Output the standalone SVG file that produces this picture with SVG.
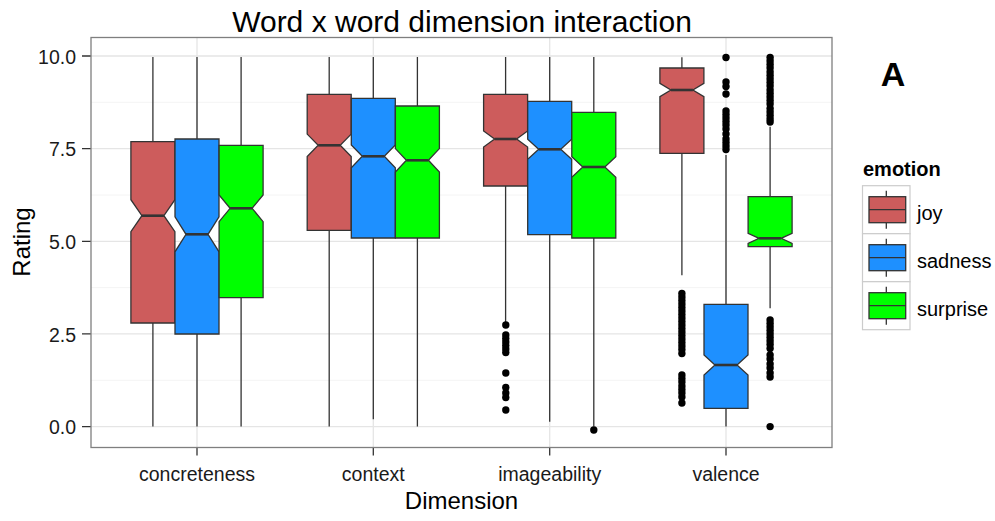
<svg xmlns="http://www.w3.org/2000/svg" width="995" height="521" viewBox="0 0 995 521">
  <style>
    text { font-family: "Liberation Sans", Arial, sans-serif; fill: #000; }
    .title { font-size: 30px; text-anchor: middle; }
    .axt { font-size: 24px; text-anchor: middle; }
    .tick { font-size: 19.5px; fill: #1a1a1a; }
    .ytl { text-anchor: end; }
    .xtl { text-anchor: middle; }
    .gmaj { stroke: #e5e5e5; stroke-width: 1.3; fill: none; }
    .gmin { stroke: #f4f4f4; stroke-width: 1; fill: none; }
    .frame { stroke: #7f7f7f; stroke-width: 1.3; fill: none; }
    .tk { stroke: #333; stroke-width: 1.3; }
    .wh { stroke: #333; stroke-width: 1.3; fill: none; }
    .bx { stroke: #333; stroke-width: 1.3; stroke-linejoin: miter; }
    .md { stroke: #333; stroke-width: 2.6; }
    .joy { fill: #cd5c5c; }
    .sad { fill: #1e90ff; }
    .sur { fill: #00ff00; }
    .out { fill: #000; }
    .lkey { fill: #fff; stroke: #cccccc; stroke-width: 1.2; }
    .ltitle { font-size: 20px; font-weight: bold; }
    .llab { font-size: 20px; }
    .tag { font-size: 34px; font-weight: bold; text-anchor: middle; }
  </style>
  <defs>
    <circle id="pt" r="3.7"/>
  </defs>

  <rect width="995" height="521" fill="#fff"/>

  <text class="title" x="462" y="32">Word x word dimension interaction</text>

  <!-- panel grid -->
  <g id="grid">
    <path class="gmin" d="M91 102.3H832M91 195H832M91 287.6H832M91 380.3H832"/>
    <path class="gmaj" d="M91 56H832M91 148.65H832M91 241.3H832M91 333.95H832M91 426.6H832"/>
    <path class="gmaj" d="M197 37.5V447.5M373.3 37.5V447.5M549.7 37.5V447.5M726 37.5V447.5"/>
  </g>

  <!-- y axis -->
  <g id="y-axis">
    <path class="tk" d="M82 56H91M82 148.65H91M82 241.3H91M82 333.95H91M82 426.6H91"/>
    <text class="tick ytl" x="76" y="63.5">10.0</text>
    <text class="tick ytl" x="76" y="156">7.5</text>
    <text class="tick ytl" x="76" y="248.5">5.0</text>
    <text class="tick ytl" x="76" y="341.5">2.5</text>
    <text class="tick ytl" x="76" y="434">0.0</text>
    <text class="axt" transform="translate(30 242) rotate(-90)">Rating</text>
  </g>

  <!-- x axis -->
  <g id="x-axis">
    <path class="tk" d="M197 447.5V455.5M373.3 447.5V455.5M549.7 447.5V455.5M726 447.5V455.5"/>
    <text class="tick xtl" x="197" y="481">concreteness</text>
    <text class="tick xtl" x="373.3" y="481">context</text>
    <text class="tick xtl" x="549.7" y="481">imageability</text>
    <text class="tick xtl" x="726" y="481">valence</text>
    <text class="axt" x="461.5" y="509">Dimension</text>
  </g>

  <!-- concreteness -->
  <g id="concreteness-joy">
    <path class="wh" d="M152.9 57V141.7M152.9 323V426.6"/>
    <path class="bx joy" d="M130.9 141.7H174.9V199.7L163.9 215.7L174.9 231.7V323H130.9V231.7L141.9 215.7L130.9 199.7Z"/>
    <path class="md" d="M141.9 215.7H163.9"/>
  </g>
  <g id="concreteness-sadness">
    <path class="wh" d="M197 57V139M197 334V426.6"/>
    <path class="bx sad" d="M175 139H219V216.8L208 234.3L219 251.8V334H175V251.8L186 234.3L175 216.8Z"/>
    <path class="md" d="M186 234.3H208"/>
  </g>
  <g id="concreteness-surprise">
    <path class="wh" d="M241.1 57V145.3M241.1 297.7V426.6"/>
    <path class="bx sur" d="M219.1 145.3H263.1V194.9L252.1 208.3L263.1 221.7V297.7H219.1V221.7L230.1 208.3L219.1 194.9Z"/>
    <path class="md" d="M230.1 208.3H252.1"/>
  </g>

  <!-- context -->
  <g id="context-joy">
    <path class="wh" d="M329.2 57V94.3M329.2 230.3V426.6"/>
    <path class="bx joy" d="M307.2 94.3H351.2V134.1L340.2 145.3L351.2 156.5V230.3H307.2V156.5L318.2 145.3L307.2 134.1Z"/>
    <path class="md" d="M318.2 145.3H340.2"/>
  </g>
  <g id="context-sadness">
    <path class="wh" d="M373.3 57V98.3M373.3 238V419.3"/>
    <path class="bx sad" d="M351.3 98.3H395.3V144.9L384.3 156.3L395.3 167.7V238H351.3V167.7L362.3 156.3L351.3 144.9Z"/>
    <path class="md" d="M362.3 156.3H384.3"/>
  </g>
  <g id="context-surprise">
    <path class="wh" d="M417.4 57V106M417.4 238V426.6"/>
    <path class="bx sur" d="M395.4 106H439.4V148.6L428.4 160.3L439.4 172V238H395.4V172L406.4 160.3L395.4 148.6Z"/>
    <path class="md" d="M406.4 160.3H428.4"/>
  </g>

  <!-- imageability -->
  <g id="imageability-joy">
    <path class="wh" d="M505.6 57V94.3M505.6 186V322"/>
    <path class="bx joy" d="M483.6 94.3H527.6V131L516.6 139L527.6 147V186H483.6V147L494.6 139L483.6 131Z"/>
    <path class="md" d="M494.6 139H516.6"/>
    <g class="out">
      <use href="#pt" x="505.8" y="325"/><use href="#pt" x="505.8" y="335"/><use href="#pt" x="505.8" y="338.5"/>
      <use href="#pt" x="505.8" y="342"/><use href="#pt" x="505.8" y="345.5"/><use href="#pt" x="505.8" y="349"/>
      <use href="#pt" x="505.8" y="352.5"/><use href="#pt" x="505.8" y="373"/><use href="#pt" x="505.8" y="387.5"/>
      <use href="#pt" x="505.8" y="393"/><use href="#pt" x="505.8" y="397.5"/><use href="#pt" x="505.8" y="410"/>
    </g>
  </g>
  <g id="imageability-sadness">
    <path class="wh" d="M549.7 57V101.3M549.7 234.7V421.7"/>
    <path class="bx sad" d="M527.7 101.3H571.7V139.3L560.7 149.3L571.7 159.3V234.7H527.7V159.3L538.7 149.3L527.7 139.3Z"/>
    <path class="md" d="M538.7 149.3H560.7"/>
  </g>
  <g id="imageability-surprise">
    <path class="wh" d="M593.8 57V112.3M593.8 238V426.6"/>
    <path class="bx sur" d="M571.8 112.3H615.8V156.7L604.8 167L615.8 177.3V238H571.8V177.3L582.8 167L571.8 156.7Z"/>
    <path class="md" d="M582.8 167H604.8"/>
    <use class="out" href="#pt" x="593.8" y="430"/>
  </g>

  <!-- valence -->
  <g id="valence-joy">
    <path class="wh" d="M681.9 57.3V68M681.9 153.3V275.3"/>
    <path class="bx joy" d="M659.9 68H703.9V83.3L692.9 90L703.9 96.7V153.3H659.9V96.7L670.9 90L659.9 83.3Z"/>
    <path class="md" d="M670.9 90H692.9"/>
    <g class="out">
      <use href="#pt" x="681.9" y="293.5"/><use href="#pt" x="681.9" y="297"/><use href="#pt" x="681.9" y="300.5"/>
      <use href="#pt" x="681.9" y="304"/><use href="#pt" x="681.9" y="307.5"/><use href="#pt" x="681.9" y="311"/>
      <use href="#pt" x="681.9" y="314.5"/><use href="#pt" x="681.9" y="318"/><use href="#pt" x="681.9" y="321.5"/>
      <use href="#pt" x="681.9" y="325"/><use href="#pt" x="681.9" y="328.5"/><use href="#pt" x="681.9" y="332"/>
      <use href="#pt" x="681.9" y="335.5"/><use href="#pt" x="681.9" y="339"/><use href="#pt" x="681.9" y="342.5"/>
      <use href="#pt" x="681.9" y="346"/><use href="#pt" x="681.9" y="349.5"/><use href="#pt" x="681.9" y="353.5"/>
      <use href="#pt" x="681.9" y="375"/><use href="#pt" x="681.9" y="378.5"/><use href="#pt" x="681.9" y="382"/>
      <use href="#pt" x="681.9" y="386"/><use href="#pt" x="681.9" y="389.5"/><use href="#pt" x="681.9" y="393"/>
      <use href="#pt" x="681.9" y="397"/><use href="#pt" x="681.9" y="403"/>
    </g>
  </g>
  <g id="valence-sadness">
    <path class="wh" d="M726 155V304.3M726 408.3V426.6"/>
    <path class="bx sad" d="M704 304.3H748V355L737 365L748 375V408.3H704V375L715 365L704 355Z"/>
    <path class="md" d="M715 365H737"/>
    <g class="out">
      <use href="#pt" x="726" y="57.5"/><use href="#pt" x="726" y="82"/><use href="#pt" x="726" y="86.5"/>
      <use href="#pt" x="726" y="94"/><use href="#pt" x="726" y="111"/><use href="#pt" x="726" y="114.5"/>
      <use href="#pt" x="726" y="118"/><use href="#pt" x="726" y="121.5"/><use href="#pt" x="726" y="125"/>
      <use href="#pt" x="726" y="129"/><use href="#pt" x="726" y="134"/><use href="#pt" x="726" y="139"/>
      <use href="#pt" x="726" y="142.5"/><use href="#pt" x="726" y="146"/><use href="#pt" x="726" y="149.5"/>
    </g>
  </g>
  <g id="valence-surprise">
    <path class="wh" d="M770.1 126.7V196.7M770.1 246.7V308.3"/>
    <path class="bx sur" d="M748.1 196.7H792.1V233.3L781.1 238.3L792.1 243.3V246.7H748.1V243.3L759.1 238.3L748.1 233.3Z"/>
    <path class="md" d="M759.1 238.3H781.1"/>
    <g class="out">
      <use href="#pt" x="770.1" y="57.5"/><use href="#pt" x="770.1" y="61"/><use href="#pt" x="770.1" y="64.5"/>
      <use href="#pt" x="770.1" y="68"/><use href="#pt" x="770.1" y="72"/><use href="#pt" x="770.1" y="75.5"/>
      <use href="#pt" x="770.1" y="79"/><use href="#pt" x="770.1" y="82.5"/><use href="#pt" x="770.1" y="86"/>
      <use href="#pt" x="770.1" y="90"/><use href="#pt" x="770.1" y="93.5"/><use href="#pt" x="770.1" y="97"/>
      <use href="#pt" x="770.1" y="100.5"/><use href="#pt" x="770.1" y="104"/><use href="#pt" x="770.1" y="108.5"/>
      <use href="#pt" x="770.1" y="112"/><use href="#pt" x="770.1" y="115.5"/><use href="#pt" x="770.1" y="119"/>
      <use href="#pt" x="770.1" y="122"/>
      <use href="#pt" x="770.1" y="320"/><use href="#pt" x="770.1" y="323.5"/><use href="#pt" x="770.1" y="327"/>
      <use href="#pt" x="770.1" y="330.5"/><use href="#pt" x="770.1" y="334"/><use href="#pt" x="770.1" y="337.5"/>
      <use href="#pt" x="770.1" y="341"/><use href="#pt" x="770.1" y="344.5"/><use href="#pt" x="770.1" y="348.5"/>
      <use href="#pt" x="770.1" y="355"/><use href="#pt" x="770.1" y="359"/><use href="#pt" x="770.1" y="364"/>
      <use href="#pt" x="770.1" y="368"/><use href="#pt" x="770.1" y="373"/><use href="#pt" x="770.1" y="377"/>
      <use href="#pt" x="770.1" y="426.6"/>
    </g>
  </g>

  <!-- panel border -->
  <rect class="frame" x="91" y="37.5" width="741" height="410"/>

  <text class="tag" x="893" y="86">A</text>

  <!-- legend -->
  <g id="legend">
    <text class="ltitle" x="863" y="176">emotion</text>
    <g id="legend-joy">
      <rect class="lkey" x="862.5" y="185.7" width="47.5" height="48"/>
      <path class="wh" d="M886.3 190.7V196.7M886.3 222.7V228.7"/>
      <rect class="bx joy" x="869" y="196.7" width="36.7" height="26"/>
      <path class="wh" d="M869 209.7H905.7"/>
      <text class="llab" x="917" y="219.5">joy</text>
    </g>
    <g id="legend-sadness">
      <rect class="lkey" x="862.5" y="233.7" width="47.5" height="48"/>
      <path class="wh" d="M886.3 238.7V244.7M886.3 270.7V276.7"/>
      <rect class="bx sad" x="869" y="244.7" width="36.7" height="26"/>
      <path class="wh" d="M869 257.7H905.7"/>
      <text class="llab" x="917" y="267.5">sadness</text>
    </g>
    <g id="legend-surprise">
      <rect class="lkey" x="862.5" y="281.7" width="47.5" height="48"/>
      <path class="wh" d="M886.3 286.7V292.7M886.3 318.7V324.7"/>
      <rect class="bx sur" x="869" y="292.7" width="36.7" height="26"/>
      <path class="wh" d="M869 305.7H905.7"/>
      <text class="llab" x="917" y="315.5">surprise</text>
    </g>
  </g>
</svg>
